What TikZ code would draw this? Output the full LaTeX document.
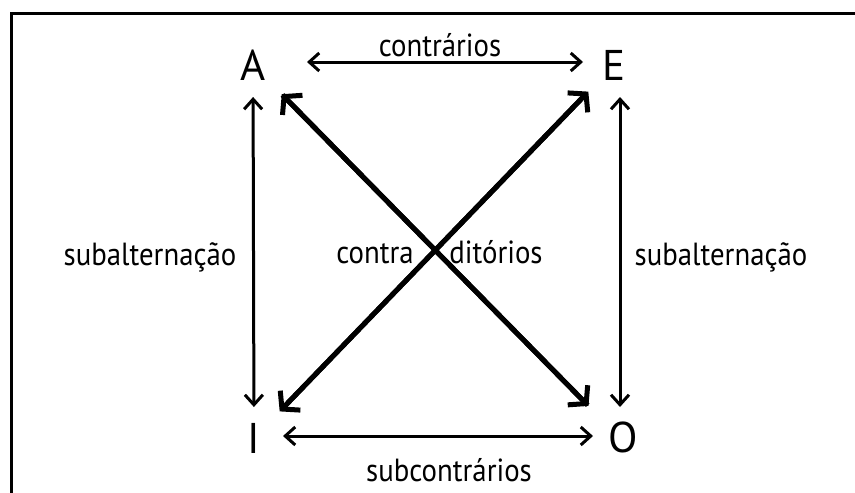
\documentclass[tikz,border=0pt]{standalone}
\usepackage{fontspec}
\setmainfont{PT Sans}
\newfontfamily\labfont[FakeStretch=0.9]{PT Sans}
\usetikzlibrary{arrows.meta}
\begin{document}
\begin{tikzpicture}[x=1pt,y=-1pt,
  letter/.style={inner sep=0pt,anchor=base,font=\fontsize{43}{43}\selectfont},
  lab/.style={inner sep=0pt,anchor=base,font=\labfont\fontsize{32}{32}\selectfont},
  thinarrow/.style={line width=3pt,{Straight Barb[length=10pt,width=18pt]}-{Straight Barb[length=10pt,width=18pt]}},
  diagarrow/.style={line width=5pt,-{Straight Barb[length=12pt,width=28pt]}},
  frameline/.style={line width=3pt}]
\useasboundingbox (0,0) rectangle (855,493);
\coordinate (fbot) at (11,493);
\coordinate (fcorner) at (11,13);
\coordinate (fright) at (855,13);
\draw[frameline] (fbot) -- (fcorner) -- (fright);
% corner letters
\node[letter] (A) at (253,80) {A};
\node[letter] (E) at (614,80) {E};
\node[letter] (I) at (254,453) {I};
\node[letter] (O) at (623,452) {O};
\coordinate (Ac) at (253,65);
\coordinate (Ec) at (614,65);
\coordinate (Ic) at (254,438);
\coordinate (Oc) at (620,438);
\coordinate (Er) at (620,65);
% top and bottom
\draw[thinarrow,shorten <=54pt,shorten >=31pt] ([yshift=3pt]Ac) -- ([yshift=3pt]Ec);
\draw[thinarrow,shorten <=29pt,shorten >=27pt] ([yshift=2pt]Ic) -- ([yshift=2pt]Oc);
% verticals
\draw[thinarrow,shorten <=32pt,shorten >=31pt] (Ac) -- (Ic);
\draw[thinarrow,shorten <=32pt,shorten >=31pt] (Er) -- (Oc);
% diagonals
\draw[diagarrow,shorten <=46pt,shorten >=41pt] (Oc) -- (Ac);
\draw[diagarrow,shorten <=42pt,shorten >=37pt] (Ec) -- (Ic);
\draw[diagarrow,shorten <=42pt,shorten >=45pt] (Ac) -- (Oc);
\draw[diagarrow,shorten <=41pt,shorten >=37pt] (Ic) -- (Ec);
% labels
\node[lab] (ctr) at (440,56) {contrários};
\node[lab] (sctr) at (449,481) {subcontrários};
\node[lab] (subl) at (150,265) {subalternação};
\node[lab] (subr) at (721,265) {subalternação};
\node[lab] (cta) at (375,263) {contra};
\node[lab] (dit) at (496,263) {ditórios};
\end{tikzpicture}
\end{document}
